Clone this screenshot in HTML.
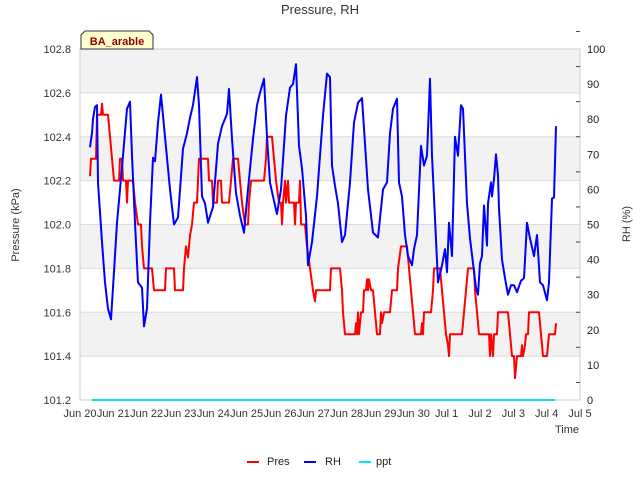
<!DOCTYPE html>
<html><head><meta charset="utf-8">
<style>
body{margin:0;background:#fff;}
svg{display:block;font-family:"Liberation Sans","DejaVu Sans",sans-serif;}
</style></head>
<body>
<svg id="chart" width="640" height="480" viewBox="0 0 640 480">
<text x="320" y="14" text-anchor="middle" font-size="13" fill="#333">Pressure, RH</text>
<g id="plot"></g>
<text transform="translate(19,225) rotate(-90)" text-anchor="middle" font-size="11" fill="#333">Pressure (kPa)</text>
<text transform="translate(630,224) rotate(-90)" text-anchor="middle" font-size="11" fill="#333">RH (%)</text>
<text x="579" y="433" text-anchor="end" font-size="11" fill="#333">Time</text>
<g>
<path d="M81,49 L81,35 L85,31 L149,31 L153,35 L153,49 Z" fill="#ffffcc" stroke="#333" stroke-width="1"/>
<text x="117" y="45" text-anchor="middle" font-size="11" font-weight="bold" fill="#8b0000">BA_arable</text>
</g>
<g>
<g><line x1="247" y1="462" x2="259" y2="462" stroke="#ff0000" stroke-width="2"/><text x="267" y="465" font-size="11" fill="#222">Pres</text></g>
<g><line x1="304" y1="462" x2="316" y2="462" stroke="#0000ff" stroke-width="2"/><text x="325" y="465" font-size="11" fill="#222">RH</text></g>
<g><line x1="359" y1="462" x2="371" y2="462" stroke="#00e5ee" stroke-width="2"/><text x="376" y="465" font-size="11" fill="#222">ppt</text></g>
</g>
</svg>
<script>
// time in days since Jun 20 00:00
const presT = [.30,.33,.48,.51,.63,.66,.69,.84,.90,.96,1.02,1.17,1.20,1.26,1.29,1.38,1.41,1.44,1.59,1.65,1.74,1.83,1.86,1.92,2.16,2.22,2.55,2.58,2.82,2.85,3.09,3.12,3.18,3.24,3.30,3.36,3.42,3.51,3.57,3.84,3.87,3.96,3.99,4.11,4.14,4.23,4.26,4.47,4.53,4.59,4.74,4.80,4.86,4.95,5.04,5.07,5.13,5.52,5.58,5.61,5.76,5.82,5.88,5.97,6.03,6.06,6.09,6.15,6.18,6.24,6.27,6.42,6.45,6.48,6.57,6.60,6.63,6.75,6.81,6.90,6.99,7.05,7.08,7.50,7.53,7.80,7.86,7.89,7.95,8.25,8.28,8.31,8.34,8.37,8.43,8.49,8.52,8.58,8.61,8.64,8.67,8.73,8.79,8.85,8.91,9.00,9.03,9.06,9.12,9.30,9.36,9.51,9.54,9.63,9.81,9.87,9.93,9.99,10.05,10.23,10.26,10.29,10.32,10.53,10.59,10.62,10.80,10.86,10.92,10.98,11.04,11.07,11.10,11.46,11.52,11.58,11.64,11.82,11.85,11.91,11.97,12.27,12.30,12.33,12.39,12.42,12.51,12.54,12.84,12.90,12.96,13.02,13.05,13.11,13.23,13.26,13.29,13.35,13.38,13.44,13.47,13.77,13.83,13.89,14.01,14.07,14.25,14.28];
const presV = [102.22,102.3,102.3,102.5,102.5,102.55,102.5,102.5,102.4,102.3,102.2,102.2,102.3,102.3,102.2,102.2,102.1,102.2,102.2,102.1,102.0,102.0,101.9,101.8,101.8,101.7,101.7,101.8,101.8,101.7,101.7,101.8,101.9,101.85,101.95,102.0,102.1,102.1,102.3,102.3,102.2,102.2,102.1,102.1,102.2,102.2,102.1,102.1,102.2,102.3,102.3,102.2,102.1,102.0,102.0,102.1,102.2,102.2,102.3,102.4,102.4,102.3,102.2,102.1,102.1,102.0,102.1,102.2,102.1,102.2,102.1,102.1,102.0,102.1,102.1,102.2,102.0,102.0,101.9,101.8,101.7,101.65,101.7,101.7,101.8,101.8,101.7,101.6,101.5,101.5,101.55,101.5,101.6,101.5,101.6,101.6,101.7,101.7,101.75,101.7,101.75,101.7,101.7,101.6,101.5,101.5,101.6,101.55,101.6,101.6,101.7,101.7,101.8,101.9,101.9,101.8,101.7,101.6,101.5,101.5,101.55,101.5,101.6,101.6,101.7,101.8,101.8,101.7,101.6,101.5,101.45,101.4,101.5,101.5,101.6,101.7,101.8,101.8,101.7,101.6,101.5,101.5,101.4,101.5,101.4,101.5,101.5,101.6,101.6,101.5,101.4,101.4,101.3,101.4,101.4,101.45,101.4,101.45,101.5,101.5,101.6,101.6,101.5,101.4,101.4,101.5,101.5,101.55];
const rhT = [.30,.36,.39,.45,.51,.54,.66,.75,.84,.93,.99,1.11,1.20,1.29,1.41,1.50,1.56,1.65,1.74,1.86,1.92,2.01,2.10,2.19,2.25,2.34,2.43,2.55,2.70,2.82,2.94,3.09,3.21,3.30,3.39,3.51,3.57,3.66,3.75,3.84,3.99,4.14,4.26,4.41,4.47,4.56,4.68,4.80,4.92,5.04,5.19,5.31,5.40,5.52,5.61,5.70,5.79,5.91,6.03,6.18,6.30,6.39,6.48,6.57,6.66,6.78,6.84,6.96,7.11,7.20,7.29,7.41,7.50,7.56,7.65,7.74,7.86,7.95,8.10,8.22,8.34,8.46,8.55,8.64,8.79,8.94,9.09,9.21,9.30,9.39,9.51,9.57,9.66,9.75,9.84,9.96,10.02,10.11,10.23,10.32,10.41,10.50,10.56,10.65,10.74,10.86,10.95,11.01,11.07,11.16,11.25,11.34,11.43,11.49,11.61,11.70,11.79,11.88,11.94,12.00,12.06,12.12,12.21,12.24,12.33,12.36,12.42,12.48,12.54,12.57,12.66,12.75,12.84,12.93,13.02,13.11,13.23,13.32,13.41,13.50,13.62,13.71,13.80,13.89,14.01,14.07,14.16,14.22,14.28];
const rhV = [72,76,80,83.5,84,62,45,33.5,26,23,32,50.5,60,69.6,83,85,69.6,50.5,33.5,32,21,26,50.5,69,68,79,87,75,60,50,52,71.6,76,80.4,84,92,84,58,56,50.5,55,73,78,81.5,88.6,74.4,59,52.5,47.7,60,74.4,84,87.5,91.5,75,62,58,53,60,81,89,90,95.7,72.4,66,52.5,38.4,45,58,69.6,81,93,92,66.8,61,56,45,47,62,79,84.7,86,73,60,47.7,46.3,60,62,76,83,85.8,62,58,47,41,38.4,43,47,72.4,66.8,69.6,91.5,69.6,51.7,33.5,38.4,43,36.4,50.5,41,75,69.6,84,83,56,46,39,32,30,39,41,55.4,44,56,62,58,63,70,64,54.5,40,34.7,30,32.7,32.7,30.7,34,34.7,50.5,46,41,47,33.5,32.7,28.4,33.5,57.4,57.7,78];
const pptT = [0.36,14.25];
const pptV = [0,0];
const xTickLabels = ["Jun 20","Jun 21","Jun 22","Jun 23","Jun 24","Jun 25","Jun 26","Jun 27","Jun 28","Jun 29","Jun 30","Jul 1","Jul 2","Jul 3","Jul 4","Jul 5"];
const leftTicks = [101.2,101.4,101.6,101.8,102.0,102.2,102.4,102.6,102.8];
const rightTicks = [0,10,20,30,40,50,60,70,80,90,100];

const L=80,R=580,T=49,B=400;
const xS=d=>L+(d/15)*(R-L);
const yP=v=>B-(v-101.2)/1.6*(B-T);
const yR=v=>B-v/100*(B-T);
const NS="http://www.w3.org/2000/svg";
const plot=document.getElementById('plot');
function mk(tag,attrs,parent){const e=document.createElementNS(NS,tag);for(const k in attrs)e.setAttribute(k,attrs[k]);(parent||plot).appendChild(e);return e;}

// background bands
for(let i=0;i<leftTicks.length-1;i++){
  const y1=yP(leftTicks[i+1]),y2=yP(leftTicks[i]);
  if(i%2===1){const r=mk('rect',{x:L,y:y1,width:R-L,height:y2-y1,fill:'#f2f2f2'});
  
  }
}
leftTicks.forEach((v,i)=>{
  const y=yP(v);
  const g=mk('line',{x1:L,x2:R,y1:y,y2:y,stroke:'#dcdcdc','stroke-width':1});
  
  
  const t=mk('text',{x:L-9,y:y+4,'text-anchor':'end','font-size':11,fill:'#333'});
  t.textContent=v.toFixed(1);
  
  
});
mk('rect',{x:L,y:T,width:R-L,height:B-T,fill:'none',stroke:'#cccccc','stroke-width':1});
rightTicks.forEach(v=>{
  const y=yR(v);
  const t=mk('text',{x:R+7,y:y+4,'font-size':11,fill:'#222'});
  t.textContent=v;
  
  
  mk('line',{x1:R-4,x2:R,y1:yR(v+5),y2:yR(v+5),stroke:'#444'});
});
xTickLabels.forEach((s,i)=>{
  const x=xS(i);
  const t=mk('text',{x:x,y:B+17,'text-anchor':'middle','font-size':11,fill:'#333'});
  t.textContent=s;
  
  
});
function series(ts,vs,yf,color,name){
  const p=mk('polyline',{points:ts.map((t,i)=>xS(t).toFixed(1)+','+yf(vs[i]).toFixed(1)).join(' '),fill:'none',stroke:color,'stroke-width':2,'stroke-linejoin':'round'});
  
  
}
series(pptT,pptV,yR,'#00e5ee','ppt-line');
series(presT,presV,yP,'#ff0000','pres-line');
series(rhT,rhV,yR,'#0000ff','rh-line');
</script>
</body></html>
